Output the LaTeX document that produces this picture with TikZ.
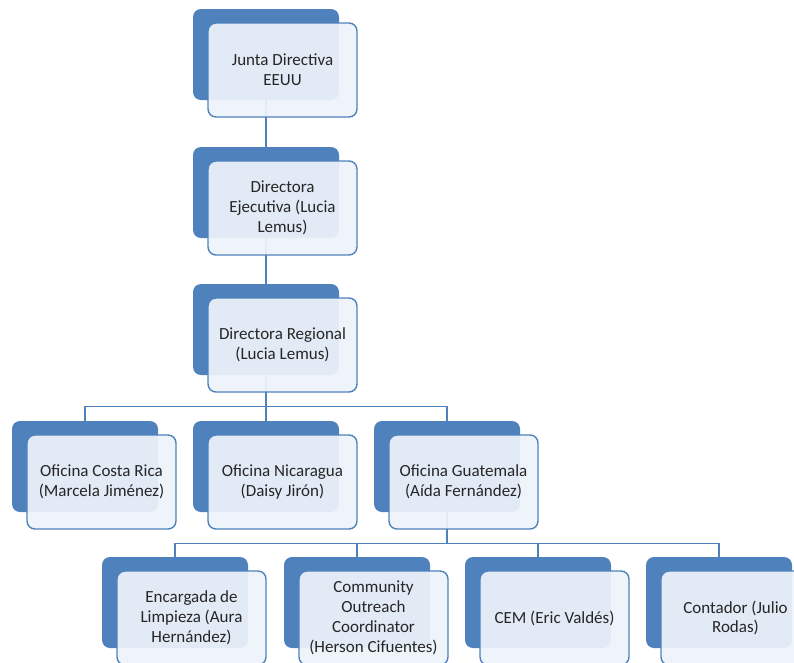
\documentclass[tikz,border=0pt]{standalone}
\usepackage{fontspec}
\setmainfont{Carlito}
\usetikzlibrary{positioning}
\definecolor{orgblue}{HTML}{4F81BD}
\definecolor{orgpale}{HTML}{EEF3FA}

\begin{document}
\begin{tikzpicture}[x=1pt,y=-1pt,
    back node/.style={rectangle,rounded corners=8pt,fill=orgblue,minimum width=146pt,minimum height=91pt,inner sep=0pt},
    card node/.style={rectangle,rounded corners=8pt,draw=orgblue,line width=1.4pt,fill=orgpale,fill opacity=0.93,text opacity=1,
                      minimum width=149pt,minimum height=94pt,align=center,text=black!85,font=\fontsize{17}{19.8}\selectfont},
    link/.style={draw=orgblue,line width=1.2pt}]
  \clip (0,0) rectangle (794,662);

  % back boxes
  \node[back node] (b1) at (266,54.5) {};
  \node[back node] (b2) at (266,192.5) {};
  \node[back node] (b3) at (266,329.5) {};
  \node[back node] (b4a) at (85,466.5) {};
  \node[back node] (b4b) at (266,466.5) {};
  \node[back node] (b4c) at (447,466.5) {};
  \node[back node] (b5a) at (175,602.5) {};
  \node[back node] (b5b) at (357,602.5) {};
  \node[back node] (b5c) at (538,602.5) {};
  \node[back node] (b5d) at (719,602.5) {};

  % links
  \draw[link] (b1.south) -- (b2.north);
  \draw[link] (b2.south) -- (b3.north);
  \draw[link] (b3.south) -- ++(0,31) -| (b4a.north);
  \draw[link] (b3.south) -- ++(0,31) -| (b4b.north);
  \draw[link] (b3.south) -- ++(0,31) -| (b4c.north);
  \draw[link] (b4c.south) -- ++(0,31) -| (b5a.north);
  \draw[link] (b4c.south) -- ++(0,31) -| (b5b.north);
  \draw[link] (b4c.south) -- ++(0,31) -| (b5c.north);
  \draw[link] (b4c.south) -- ++(0,31) -| (b5d.north);

  % cards
  \node[card node] (c1) at (282.5,70) {Junta Directiva\\EEUU};
  \node[card node] (c2) at (282.5,208) {Directora\\Ejecutiva (Lucia\\Lemus)};
  \node[card node] (c3) at (282.5,345) {Directora Regional\\(Lucia Lemus)};
  \node[card node] (c4a) at (101.5,482) {Oficina Costa Rica\\(Marcela Jiménez)};
  \node[card node] (c4b) at (282.5,482) {Oficina Nicaragua\\(Daisy Jirón)};
  \node[card node] (c4c) at (463.5,482) {Oficina Guatemala\\(Aída Fernández)};
  \node[card node] (c5a) at (191.5,618) {Encargada de\\Limpieza (Aura\\Hernández)};
  \node[card node] (c5b) at (373.5,618) {Community\\Outreach\\Coordinator\\(Herson Cifuentes)};
  \node[card node] (c5c) at (554.5,618) {CEM (Eric Valdés)};
  \node[card node] (c5d) at (735.5,618) {Contador (Julio\\Rodas)};
\end{tikzpicture}
\end{document}
